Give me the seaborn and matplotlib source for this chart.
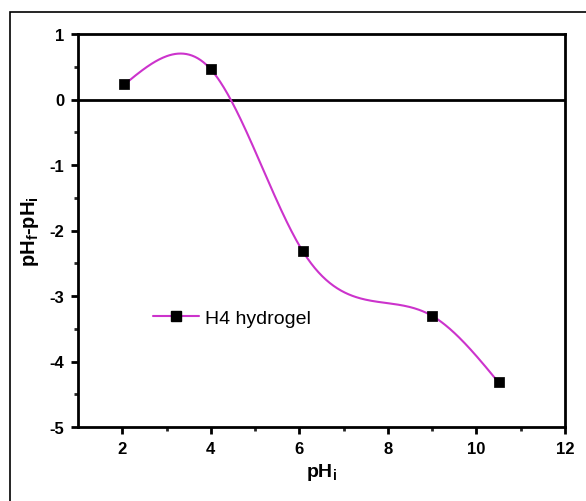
import numpy as np
import pandas as pd
import matplotlib
matplotlib.use("Agg")
import matplotlib.pyplot as plt
import seaborn as sns
from matplotlib.lines import Line2D
from matplotlib.patches import Rectangle

sns.set_theme(style="ticks")
plt.rcParams['font.family'] = ['Liberation Sans', 'DejaVu Sans']
plt.rcParams['axes.unicode_minus'] = False
plt.rcParams['mathtext.fontset'] = 'custom'
plt.rcParams['mathtext.rm'] = 'Liberation Sans'
plt.rcParams['mathtext.bf'] = 'Liberation Sans:bold'
plt.rcParams['mathtext.it'] = 'Liberation Sans:italic'
plt.rcParams['text.color'] = 'black'
plt.rcParams['axes.labelcolor'] = 'black'

ph_i = [2.05, 4.0, 6.08, 8.99, 10.5]
delta_ph = [0.23, 0.46, -2.32, -3.30, -4.32]
series_name = "H4 hydrogel"
line_color = "#CC33CC"


def natural_spline(x, y, n=400):
    x = np.asarray(x, float); y = np.asarray(y, float)
    k = len(x)
    h = np.diff(x)
    A = np.zeros((k, k)); b = np.zeros(k)
    A[0, 0] = 1; A[-1, -1] = 1
    for i in range(1, k - 1):
        A[i, i - 1] = h[i - 1]
        A[i, i] = 2 * (h[i - 1] + h[i])
        A[i, i + 1] = h[i]
        b[i] = 3 * ((y[i + 1] - y[i]) / h[i] - (y[i] - y[i - 1]) / h[i - 1])
    c = np.linalg.solve(A, b)
    xs = np.linspace(x[0], x[-1], n)
    ys = np.empty_like(xs)
    for j, xv in enumerate(xs):
        i = min(np.searchsorted(x, xv, side='right') - 1, k - 2)
        bi = (y[i + 1] - y[i]) / h[i] - h[i] * (2 * c[i] + c[i + 1]) / 3
        di = (c[i + 1] - c[i]) / (3 * h[i])
        t = xv - x[i]
        ys[j] = y[i] + bi * t + c[i] * t ** 2 + di * t ** 3
    return xs, ys


xs, ys = natural_spline(ph_i, delta_ph)
curve = pd.DataFrame({"x": xs, "y": ys})
pts = pd.DataFrame({"x": ph_i, "y": delta_ph})

fig = plt.figure(figsize=(5.86, 5.02), dpi=100)
ax = fig.add_axes([78 / 586, 1 - 428 / 502, (565 - 78) / 586, (428 - 35) / 502])

fig.patches.append(Rectangle((10 / 586, -0.1), 1.2, 1 - 13 / 502 + 0.1,
                             transform=fig.transFigure, fill=False,
                             edgecolor='black', linewidth=1.2))

ax.axhline(0, color='black', linewidth=2, zorder=1)
sns.lineplot(data=curve, x="x", y="y", ax=ax, color=line_color, linewidth=1.5,
             sort=False, estimator=None, zorder=2)
sns.scatterplot(data=pts, x="x", y="y", ax=ax, marker='s', s=42, color='black',
                edgecolor='black', zorder=3)

ax.set_xlim(1, 12)
ax.set_ylim(-5, 1)
ax.set_xticks([2, 4, 6, 8, 10, 12])
ax.set_xticks([3, 5, 7, 9, 11], minor=True)
ax.set_yticks([-5, -4, -3, -2, -1, 0, 1])
ax.set_yticks([-4.5, -3.5, -2.5, -1.5, -0.5, 0.5], minor=True)
for s in ax.spines.values():
    s.set_linewidth(2)
    s.set_color('black')
ax.tick_params(which='major', direction='out', length=5, width=2,
               labelsize=12, colors='black', pad=5)
ax.tick_params(which='minor', direction='out', length=3, width=2)
for lab in ax.get_xticklabels() + ax.get_yticklabels():
    lab.set_fontweight('bold')

ax.set_xlabel(r"$\mathbf{pH_i}$", fontsize=14, labelpad=4, color='black')
ax.set_ylabel(r"$\mathbf{pH_f}$-$\mathbf{pH_i}$", fontsize=14.5, fontweight='bold',
              labelpad=6, color='black')

handle = Line2D([], [], color=line_color, linewidth=1.5, marker='s',
                markersize=6.5, markerfacecolor='black', markeredgecolor='black')
leg = ax.legend([handle], [series_name], loc='center left', bbox_to_anchor=(0.118, 0.278),
                frameon=False, fontsize=14, handlelength=2.37, handletextpad=0.3)
for t in leg.get_texts():
    t.set_color('black')

fig.savefig("out.png", dpi=100)
